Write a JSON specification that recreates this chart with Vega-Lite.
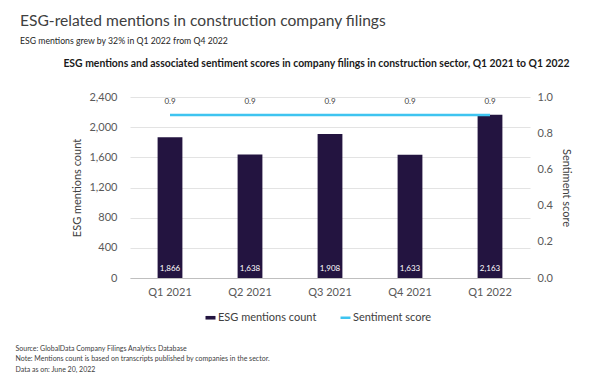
{
  "$schema": "https://vega.github.io/schema/vega-lite/v6.json",
  "width": 400,
  "height": 181,
  "autosize": {"type": "none"},
  "padding": {"left": 130, "top": 97, "right": 72, "bottom": 97},
  "background": "white",
  "config": {
    "font": "Lato",
    "view": {"stroke": null},
    "axis": {"labelFont": "Lato", "titleFont": "Lato", "labelColor": "#595959", "titleColor": "#404040", "labelOverlap": false, "labelFlush": false}
  },
  "title": {
    "text": "ESG-related mentions in construction company filings",
    "subtitle": "ESG mentions grew by 32% in Q1 2022 from Q4 2022",
    "anchor": "start",
    "frame": "group",
    "dx": -110,
    "offset": 12,
    "fontSize": 15.6,
    "fontWeight": "normal",
    "color": "#404040",
    "subtitleFontSize": 8.7,
    "subtitleColor": "#262626",
    "subtitlePadding": 8
  },
  "data": {
    "values": [
      {"quarter": "Q1 2021", "count": 1866, "sentiment": 0.9},
      {"quarter": "Q2 2021", "count": 1638, "sentiment": 0.9},
      {"quarter": "Q3 2021", "count": 1908, "sentiment": 0.9},
      {"quarter": "Q4 2021", "count": 1633, "sentiment": 0.9},
      {"quarter": "Q1 2022", "count": 2163, "sentiment": 0.9}
    ]
  },
  "layer": [
    {
      "layer": [
        {
          "mark": {"type": "bar"},
          "encoding": {
            "x": {
              "field": "quarter", "type": "nominal", "sort": null,
              "scale": {"paddingInner": 0.69, "paddingOuter": 0.345},
              "axis": {
                "orient": "bottom", "labelAngle": 0, "labelFontSize": 11, "labelPadding": 8,
                "ticks": false, "domainColor": "#bfbfbf",
                "title": ["Source: GlobalData Company Filings Analytics Database", "Note: Mentions count is based on transcripts published by companies in the sector.", "Data as on: June 20, 2022"],
                "titleFontSize": 7, "titleFontWeight": "normal", "titleColor": "#404040",
                "titleAlign": "left", "titleAnchor": "start", "titleBaseline": "top",
                "titleX": -115, "titleY": 66, "titleLineHeight": 10.5
              }
            },
            "y": {
              "field": "count", "type": "quantitative",
              "scale": {"domain": [0, 2400]},
              "axis": {
                "title": "ESG mentions count", "values": [0, 400, 800, 1200, 1600, 2000, 2400], "tickCount": 7, "format": ",d",
                "labelFontSize": 11, "labelPadding": 13, "ticks": false, "domain": false,
                "grid": true, "gridColor": "#e3e3e3", "titleFontSize": 11, "titleFontWeight": "normal", "titlePadding": 6
              }
            },
            "color": {
              "datum": "ESG mentions count",
              "scale": {"domain": ["ESG mentions count", "Sentiment score"], "range": ["#231440", "#3ec4f0"]},
              "legend": {
                "orient": "none", "legendX": 75, "legendY": 215, "direction": "horizontal", "title": null,
                "labelFontSize": 11, "labelColor": "#404040", "labelOffset": 2, "columnPadding": 18,
                "symbolSize": 400,
                "encode": {
                  "symbols": {
                    "update": {
                      "shape": {"signal": "datum.value === 'Sentiment score' ? 'M-0.5,0H0.5' : 'M-0.5,-0.18H0.5V0.18H-0.5Z'"},
                      "strokeWidth": {"signal": "datum.value === 'Sentiment score' ? 2.5 : 0"}
                    }
                  }
                }
              }
            }
          }
        },
        {
          "mark": {"type": "text", "color": "white", "fontSize": 8, "baseline": "bottom", "dy": -5},
          "encoding": {
            "x": {"field": "quarter", "type": "nominal", "sort": null},
            "y": {"datum": 0},
            "text": {"field": "count", "type": "quantitative", "format": ","}
          }
        }
      ]
    },
    {
      "layer": [
        {
          "mark": {"type": "line", "strokeWidth": 2.5},
          "encoding": {
            "x": {
              "field": "quarter", "type": "nominal", "sort": null,
              "axis": {
                "orient": "top", "labels": false, "ticks": false, "domain": false, "grid": false,
                "title": "ESG mentions and associated sentiment scores in company filings in construction sector, Q1 2021 to Q1 2022",
                "titleFontSize": 10.4, "titleFontWeight": "bold", "titleColor": "#1a1a1a",
                "titleX": 186, "titleY": -34, "titleBaseline": "middle"
              }
            },
            "y": {
              "field": "sentiment", "type": "quantitative",
              "scale": {"domain": [0, 1]},
              "axis": {
                "orient": "right", "title": "Sentiment score", "values": [0, 0.2, 0.4, 0.6, 0.8, 1.0], "tickCount": 6, "format": ".1f",
                "labelFontSize": 11, "labelPadding": 7, "ticks": false, "domain": false, "grid": false,
                "titleFontSize": 11, "titleFontWeight": "normal", "titlePadding": 8
              }
            },
            "color": {"datum": "Sentiment score"}
          }
        },
        {
          "mark": {"type": "text", "color": "#404040", "fontSize": 8, "baseline": "bottom", "dy": -9},
          "encoding": {
            "x": {"field": "quarter", "type": "nominal", "sort": null},
            "y": {"field": "sentiment", "type": "quantitative"},
            "text": {"field": "sentiment", "type": "quantitative", "format": ".1f"}
          }
        }
      ]
    }
  ],
  "resolve": {"scale": {"y": "independent"}, "axis": {"x": "independent"}}
}
